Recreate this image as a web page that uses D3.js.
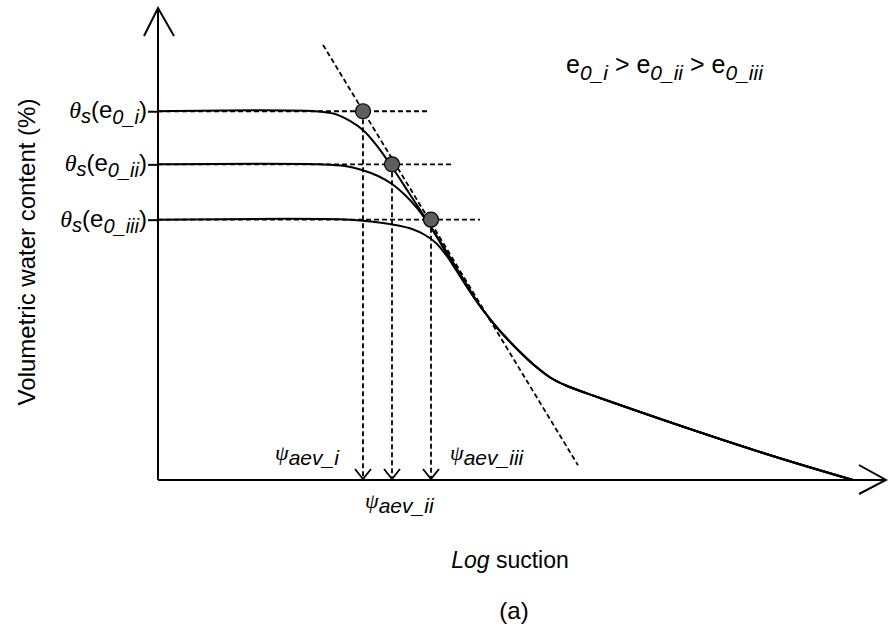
<!DOCTYPE html>
<html>
<head>
<meta charset="utf-8">
<script src="https://cdn.jsdelivr.net/npm/d3@7/dist/d3.min.js"></script>
<style>
  body { margin: 0; background: #fff; }
  svg { display: block; }
  text { font-family: "Liberation Sans", Arial, sans-serif; fill: #000; }
</style>
</head>
<body>
<svg id="chart" width="888" height="627"></svg>
<script>
// Soil-water characteristic curves for three initial void ratios (e0_i > e0_ii > e0_iii)
// x: log suction (log units), y: volumetric water content (%)

const suffixes = ["i", "ii", "iii"];
const saturatedContent = [50.0, 42.8, 35.3];   // θs(e0) plateau of each curve
const aevSuction = [2.05, 2.34, 2.73];         // ψaev where the tangent meets each plateau
const plateauGuideEnd = [2.69, 2.94, 3.22];    // right end of the dashed plateau guides

// Desaturation branch of each curve, up to where they merge
const curveI = [[0, 50.0], [1.57, 50.0], [1.77, 49.63], [1.92, 48.68], [2.06, 47.32], [2.19, 45.29],
                [2.34, 42.44], [2.51, 38.92], [2.70, 34.98], [2.90, 30.64], [3.09, 26.44]];
const curveII = [[0, 42.8], [1.62, 42.8], [1.87, 42.58], [2.04, 42.03], [2.20, 41.22], [2.34, 40.14],
                 [2.47, 38.64], [2.59, 36.88], [2.70, 34.85], [2.80, 32.68], [2.90, 30.37], [3.00, 28.20], [3.09, 26.17]];
const curveIII = [[0, 35.3], [1.92, 35.3], [2.17, 34.98], [2.37, 34.58], [2.54, 34.03], [2.67, 33.22],
                  [2.78, 32.14], [2.88, 30.51], [2.98, 28.47], [3.09, 26.17]];
// Common residual branch shared by all three curves
const commonTail = [[3.22, 23.59], [3.32, 21.83], [3.42, 20.20], [3.62, 17.36], [3.79, 15.25],
                    [3.93, 13.83], [4.08, 12.81], [4.42, 11.12], [6.02, 3.80], [6.95, 0]];
// Tangent through the steepest part of the curves
const tangentLine = [[1.65, 59.0], [4.20, 2.0]];

const svg = d3.select("#chart");
const x = d3.scaleLinear().domain([0, 7.28]).range([158, 886]);
const y = d3.scaleLinear().domain([0, 64]).range([480, 8]);

const dash = "5,3";

// Axes with open arrowheads
const axes = svg.append("g").attr("stroke", "#000").attr("stroke-width", 2).attr("fill", "none");
axes.append("line").attr("x1", x(0)).attr("y1", y(0)).attr("x2", x(0)).attr("y2", y(64));
axes.append("polyline").attr("points", [[x(0) - 14, y(64) + 28], [x(0), y(64)], [x(0) + 16, y(64) + 28]].join(" "));
axes.append("line").attr("x1", x(0)).attr("y1", y(0)).attr("x2", x(7.28)).attr("y2", y(0));
axes.append("polyline").attr("points", [[x(7.28) - 27, y(0) - 15], [x(7.28), y(0)], [x(7.28) - 27, y(0) + 14]].join(" "));

// Ticks at each saturated water content
const yAxis = d3.axisLeft(y).tickValues(saturatedContent).tickSize(10).tickFormat("");
const yAxisG = svg.append("g").attr("transform", `translate(${x(0)},0)`).call(yAxis);
yAxisG.select(".domain").remove();
yAxisG.selectAll(".tick line").attr("stroke", "#000").attr("stroke-width", 2);

// Dashed guides: plateau extensions and drops to the suction axis
const guides = svg.append("g").attr("stroke", "#000").attr("stroke-width", 1.8)
  .attr("stroke-dasharray", dash).attr("fill", "none");
saturatedContent.forEach((t, i) => {
  guides.append("line").attr("x1", x(0)).attr("x2", x(plateauGuideEnd[i]))
    .attr("y1", y(t)).attr("y2", y(t));
  guides.append("line").attr("x1", x(aevSuction[i])).attr("x2", x(aevSuction[i]))
    .attr("y1", y(t)).attr("y2", y(0) - 1);
});
guides.append("line")
  .attr("x1", x(tangentLine[0][0])).attr("y1", y(tangentLine[0][1]))
  .attr("x2", x(tangentLine[1][0])).attr("y2", y(tangentLine[1][1]));

// Arrowheads at the bottom of the suction drops
svg.append("g").attr("stroke", "#000").attr("stroke-width", 1.8).attr("fill", "none")
  .selectAll("polyline").data(aevSuction).join("polyline")
  .attr("points", d => [[x(d) - 8, y(0) - 11], [x(d), y(0) - 1], [x(d) + 8, y(0) - 11]].join(" "));

// Water retention curves
const line = d3.line().x(d => x(d[0])).y(d => y(d[1])).curve(d3.curveCatmullRom.alpha(0.5));
svg.append("g").attr("stroke", "#000").attr("stroke-width", 2).attr("fill", "none")
  .selectAll("path").data([curveI, curveII, curveIII]).join("path")
  .attr("d", d => line(d.concat(commonTail)));

// Air-entry points
svg.append("g").selectAll("circle").data(aevSuction).join("circle")
  .attr("cx", d => x(d)).attr("cy", (d, i) => y(saturatedContent[i]))
  .attr("r", 7.5).attr("fill", "#5e5e5e").attr("stroke", "#000").attr("stroke-width", 1.2);

// θs(e0_*) labels beside the ticks
const fs = 24, sub = 20;
saturatedContent.forEach((t, i) => {
  const tx = svg.append("text").attr("x", x(0) - 11).attr("y", y(t) + 7)
    .attr("text-anchor", "end").attr("font-size", fs);
  tx.append("tspan").attr("font-family", "Liberation Serif").attr("font-style", "italic").text("θ");
  tx.append("tspan").attr("font-size", sub).attr("font-style", "italic").attr("dy", 5).text("s");
  tx.append("tspan").attr("dy", -5).text("(e");
  tx.append("tspan").attr("font-size", sub).attr("font-style", "italic").attr("dy", 6).text("0_" + suffixes[i]);
  tx.append("tspan").attr("dy", -6).text(")");
});

// Void ratio ordering
const order = svg.append("text").attr("x", 566).attr("y", 73).attr("font-size", 25);
suffixes.forEach((s, i) => {
  order.append("tspan").attr("dy", i === 0 ? 0 : -7).text((i === 0 ? "" : " > ") + "e");
  order.append("tspan").attr("font-size", 21).attr("font-style", "italic").attr("dy", 7).text("0_" + s);
});

// ψaev labels
function psiLabel(px, py, suffix) {
  const t = svg.append("text").attr("x", px).attr("y", py).attr("font-size", 22);
  t.append("tspan").attr("font-family", "Liberation Serif").attr("font-style", "italic").text("ψ");
  t.append("tspan").attr("font-size", 21).attr("font-style", "italic").attr("dy", 5).text("aev_" + suffix);
}
psiLabel(x(aevSuction[0]) - 88, 460, suffixes[0]);
psiLabel(x(aevSuction[1]) - 27, 508, suffixes[1]);
psiLabel(x(aevSuction[2]) + 19, 460, suffixes[2]);

// Axis titles
svg.append("text").attr("transform", "translate(35,252) rotate(-90)")
  .attr("text-anchor", "middle").attr("font-size", 24).text("Volumetric water content (%)");
const xt = svg.append("text").attr("x", 510).attr("y", 568).attr("text-anchor", "middle").attr("font-size", 23);
xt.append("tspan").attr("font-style", "italic").text("Log");
xt.append("tspan").text(" suction");

svg.append("text").attr("x", 514).attr("y", 619).attr("text-anchor", "middle")
  .attr("font-family", "Liberation Serif").attr("font-size", 24).text("(a)");
</script>
</body>
</html>
